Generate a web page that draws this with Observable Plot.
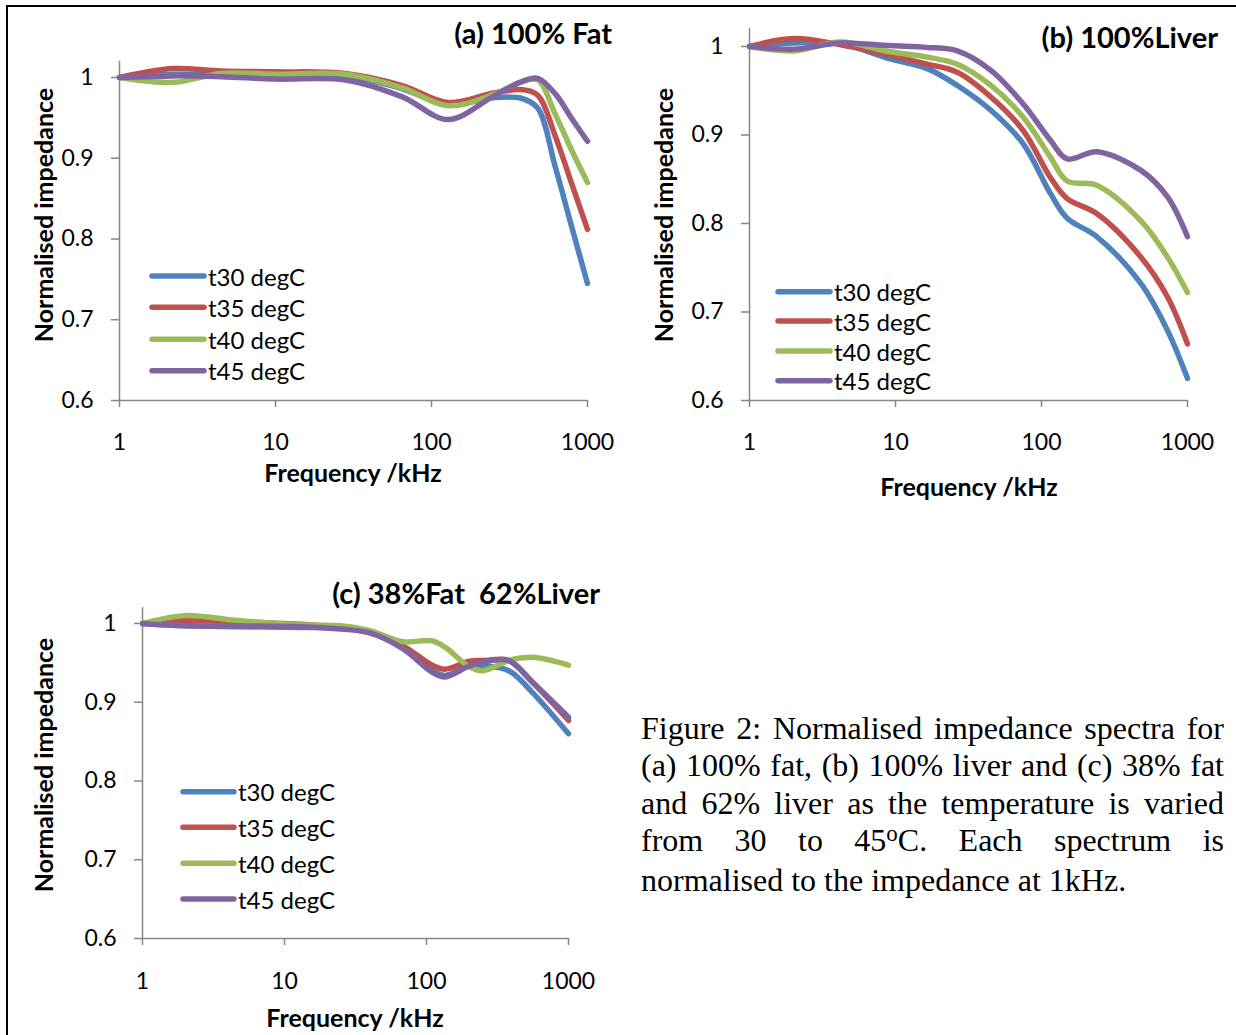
<!DOCTYPE html>
<html><head><meta charset="utf-8">
<script src="https://cdn.jsdelivr.net/npm/d3@7"></script>
<script src="https://cdn.jsdelivr.net/npm/@observablehq/plot@0.6"></script>
<style>
html,body{margin:0;padding:0;background:#fff;}
#page{position:relative;width:1236px;height:1035px;overflow:hidden;background:#fff;font-family:Lato,sans-serif;}
.panel{position:absolute;width:620px;}
.panel svg{overflow:visible;background:transparent;max-width:none !important;}
#overlay{position:absolute;left:0;top:0;}
#caption{position:absolute;left:641px;top:710px;width:583px;font-family:"Liberation Serif","Times New Roman",serif;font-size:32px;line-height:37.25px;color:#000;}
#caption div{text-align:justify;text-align-last:justify;}
#caption div.last{text-align:left;text-align-last:left;}
.sup{font-size:0.72em;position:relative;top:-0.42em;}
#bl{position:absolute;left:6px;top:5px;width:2px;height:1030px;background:#000;}
#bt{position:absolute;left:6px;top:5px;width:1230px;height:1.5px;background:#000;}
</style>
</head><body>
<div id="page">
<div id="bl"></div><div id="bt"></div>
<div id="pa" class="panel" style="left:0;top:0"></div>
<div id="pb" class="panel" style="left:620px;top:0"></div>
<div id="pc" class="panel" style="left:0;top:560px"></div>
<svg id="overlay" width="1236" height="1035"></svg>
<div id="caption">
<div>Figure 2: Normalised impedance spectra for</div>
<div>(a) 100% fat, (b) 100% liver and (c) 38% fat</div>
<div>and 62% liver as the temperature is varied</div>
<div>from 30 to 45<span class="sup">o</span>C. Each spectrum is</div>
<div class="last">normalised to the impedance at 1kHz.</div>
</div>
</div>
<script>
// ---- data ----
const series = ["t30 degC", "t35 degC", "t40 degC", "t45 degC"];
const colors = ["#4F81BD", "#C0504D", "#9BBB59", "#8064A2"];
const xTicks = [1, 10, 100, 1000];
const yTicks = [0.6, 0.7, 0.8, 0.9, 1];

// (a) 100% Fat
const freqA = [1, 2.2, 4.5, 10, 28, 65, 128, 250, 380, 480, 620, 800, 1000];
const fat30 = [1, 1.004, 1.003, 1.002, 1.002, 0.986, 0.966, 0.975, 0.974, 0.962, 0.890, 0.812, 0.745];
const fat35 = [1, 1.011, 1.008, 1.007, 1.005, 0.990, 0.969, 0.981, 0.985, 0.978, 0.928, 0.866, 0.812];
const fat40 = [1, 0.994, 1.005, 1.004, 1.004, 0.987, 0.965, 0.979, 0.995, 0.997, 0.955, 0.908, 0.870];
const fat45 = [1, 1.002, 1.001, 0.998, 0.997, 0.976, 0.948, 0.977, 0.995, 0.999, 0.980, 0.948, 0.921];

// (b) 100% Liver
const freqB = [1, 2, 4.2, 9.2, 16.5, 26.5, 45, 75, 115, 150, 240, 480, 730, 1000];
const liv30 = [1, 1.004, 1.003, 0.986, 0.975, 0.956, 0.928, 0.890, 0.834, 0.806, 0.785, 0.732, 0.679, 0.625];
const liv35 = [1, 1.009, 1.002, 0.990, 0.980, 0.971, 0.943, 0.905, 0.852, 0.828, 0.811, 0.762, 0.717, 0.664];
const liv40 = [1, 0.995, 1.005, 0.994, 0.988, 0.980, 0.956, 0.920, 0.875, 0.848, 0.843, 0.803, 0.762, 0.722];
const liv45 = [1, 0.997, 1.004, 1.001, 0.999, 0.995, 0.973, 0.935, 0.894, 0.873, 0.881, 0.860, 0.830, 0.785];

// (c) 38% Fat 62% Liver
const freqC = [1, 2, 4.5, 13, 25, 40, 68, 110, 135, 200, 250, 380, 560, 1000];
const mix30 = [1, 0.997, 0.996, 0.995, 0.994, 0.988, 0.970, 0.940, 0.934, 0.946, 0.946, 0.940, 0.912, 0.860];
const mix35 = [1, 1.004, 1.002, 0.999, 0.995, 0.990, 0.972, 0.947, 0.942, 0.952, 0.953, 0.953, 0.925, 0.877];
const mix40 = [1, 1.010, 1.004, 0.998, 0.997, 0.991, 0.977, 0.978, 0.970, 0.945, 0.940, 0.953, 0.957, 0.947];
const mix45 = [1, 0.997, 0.997, 0.996, 0.993, 0.988, 0.968, 0.938, 0.932, 0.946, 0.951, 0.953, 0.925, 0.881];

// ---- drawing ----
function rows(freq, vals) {
  return vals.flatMap((arr, i) => arr.map((v, j) => ({f: freq[j], v, s: series[i]})));
}
const fmtY = d => d === 1 ? "1" : d.toFixed(1);
const axisCol = "#868686";

function panel(el, freq, vals, o) {
  const data = rows(freq, vals);
  const p = Plot.plot({
    width: o.width, height: o.height,
    marginLeft: o.ml, marginRight: o.mr, marginTop: o.mt, marginBottom: o.mb,
    style: {background: "transparent", overflow: "visible", fontFamily: "Lato, sans-serif", color: "#000", maxWidth: "none"},
    x: {type: "log", domain: [1, 1000]},
    y: {domain: [0.6, 1.02]},
    color: {domain: series, range: colors},
    marks: [
      Plot.axisX(xTicks, {tickSize: 7, tickFormat: () => "", stroke: axisCol, strokeWidth: 1.5, label: null}),
      Plot.axisY(yTicks, {tickSize: 8, tickFormat: () => "", stroke: axisCol, strokeWidth: 1.5, label: null}),
      Plot.ruleX([1], {y1: 0.6, y2: 1.02, stroke: axisCol, strokeWidth: 1.5}),
      Plot.ruleY([0.6], {x1: 1, x2: 1000, stroke: axisCol, strokeWidth: 1.5}),
      Plot.text(xTicks, {x: d => d, frameAnchor: "bottom", dy: o.xdy, text: d => String(d), fontSize: 23, fill: "#000", textAnchor: "middle", lineAnchor: "middle"}),
      Plot.text(yTicks, {y: d => d, frameAnchor: "left", dx: -26, text: fmtY, fontSize: 23, fill: "#000", textAnchor: "end", lineAnchor: "middle"}),
      Plot.line(data, {x: "f", y: "v", z: "s", stroke: "s", strokeWidth: 5.5, curve: "catmull-rom", strokeLinecap: "round", strokeLinejoin: "round"})
    ]
  });
  document.getElementById(el).appendChild(p);
}

panel("pa", freqA, [fat30, fat35, fat40, fat45], {width: 620, height: 460, ml: 119, mr: 33, mt: 60.85, mb: 60, xdy: 42});
panel("pb", freqB, [liv30, liv35, liv40, liv45], {width: 620, height: 460, ml: 129, mr: 53, mt: 28.3, mb: 60, xdy: 42});
panel("pc", freqC, [mix30, mix35, mix40, mix45], {width: 620, height: 440, ml: 142, mr: 52, mt: 47.25, mb: 62, xdy: 43});

// ---- titles, axis titles, legends ----
const ov = d3.select("#overlay");
function txt(x, y, s, size, weight, anchor, rot) {
  const t = ov.append("text").attr("x", x).attr("y", y).text(s)
    .attr("font-family", "Lato, sans-serif").attr("font-size", size).attr("font-weight", weight)
    .attr("text-anchor", anchor).attr("dominant-baseline", "central").attr("fill", "#000")
    .style("white-space", "pre");
  if (rot) t.attr("transform", `rotate(-90 ${x} ${y})`);
}
txt(612, 32.5, "(a) 100% Fat", 29, 700, "end");
txt(1218, 36, "(b) 100%Liver", 29, 700, "end");
txt(600, 592.5, "(c) 38%Fat  62%Liver", 29, 700, "end");
txt(42.5, 215, "Normalised impedance", 25, 700, "middle", true);
txt(662.5, 215, "Normalised impedance", 25, 700, "middle", true);
txt(42.5, 765, "Normalised impedance", 25, 700, "middle", true);
txt(353, 472, "Frequency /kHz", 25, 700, "middle");
txt(969, 486, "Frequency /kHz", 25, 700, "middle");
txt(355, 1017, "Frequency /kHz", 25, 700, "middle");

function legend(x1, x2, tx, ys) {
  series.forEach((s, i) => {
    ov.append("line").attr("x1", x1).attr("x2", x2).attr("y1", ys[i]).attr("y2", ys[i])
      .attr("stroke", colors[i]).attr("stroke-width", 5.5).attr("stroke-linecap", "round");
    txt(tx, ys[i], s, 24, 400, "start");
  });
}
legend(152, 204, 208, [276, 307.3, 339.3, 370.7]);
legend(778, 830, 834, [291.7, 321, 351, 380.7]);
legend(183, 234, 238, [791.7, 827.3, 863.3, 899]);
</script>
</body></html>
